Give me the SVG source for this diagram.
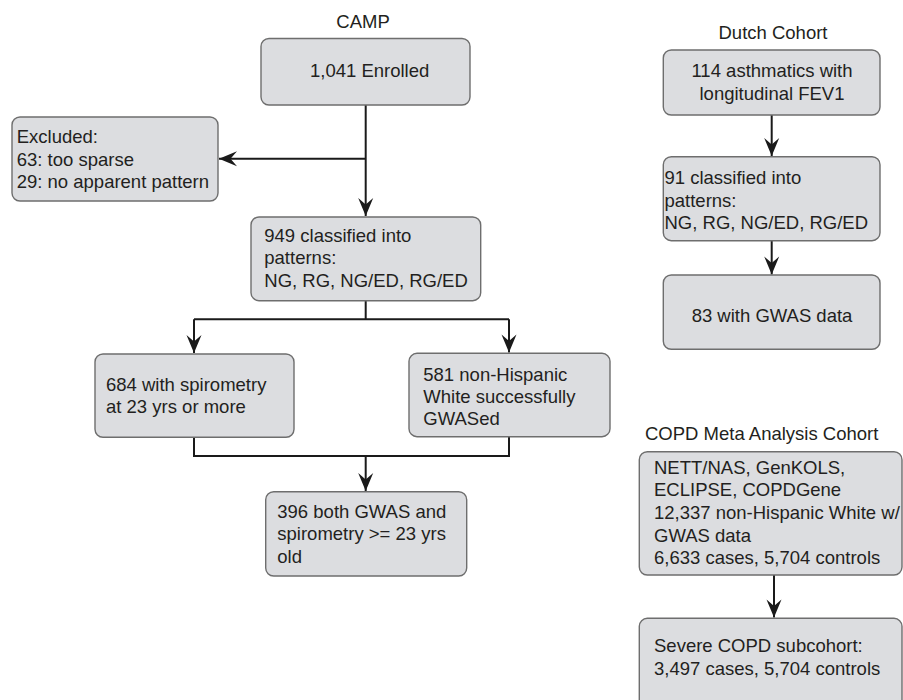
<svg xmlns="http://www.w3.org/2000/svg" width="903" height="700" viewBox="0 0 903 700">
<defs>
<style>
.box{fill:#dcdde0;stroke:#6e6e6e;stroke-width:1.4}
.t{font-family:"Liberation Sans",Arial,Helvetica,sans-serif;font-size:18.5px;fill:#231f20}
.c{text-anchor:middle}
.ln{fill:none;stroke:#1a1a1a;stroke-width:2}
</style>
<marker id="ah" markerUnits="userSpaceOnUse" viewBox="-20 -9 21 18" refX="0" refY="0" markerWidth="21" markerHeight="18" orient="auto">
<path d="M0,0 L-18,-7.5 L-11.5,0 L-18,7.5 Z" fill="#1a1a1a"/>
</marker>
</defs>
<rect width="903" height="700" fill="#fff"/>

<text class="t c" x="363" y="28">CAMP</text>
<text class="t c" x="773" y="39">Dutch Cohort</text>
<text class="t" x="645" y="440">COPD Meta Analysis Cohort</text>

<g id="connectors">
<path class="ln" d="M365.7,105 V216" marker-end="url(#ah)"/>
<path class="ln" d="M365.7,158.7 H219" marker-end="url(#ah)"/>
<path class="ln" d="M365.7,300.7 V319.3"/>
<path class="ln" d="M194,319.3 H509"/>
<path class="ln" d="M194,319.3 V353" marker-end="url(#ah)"/>
<path class="ln" d="M509,319.3 V352.5" marker-end="url(#ah)"/>
<path class="ln" d="M194,437.3 V456 H509 V436.7"/>
<path class="ln" d="M365.7,456 V491" marker-end="url(#ah)"/>
<path class="ln" d="M771.7,115 V156" marker-end="url(#ah)"/>
<path class="ln" d="M771.7,240.7 V274.5" marker-end="url(#ah)"/>
<path class="ln" d="M774,575 V617.5" marker-end="url(#ah)"/>
</g>

<g id="enrolled">
<rect class="box" x="261" y="38.5" width="209" height="66.5" rx="8"/>
<text class="t" x="310" y="77">1,041 Enrolled</text>
</g>

<g id="excluded">
<rect class="box" x="12" y="117" width="206" height="84" rx="8"/>
<text class="t" x="16.7" y="143.3">Excluded:</text>
<text class="t" x="16.7" y="166">63: too sparse</text>
<text class="t" x="16.7" y="188.3">29: no apparent pattern</text>
</g>

<g id="classified">
<rect class="box" x="251" y="217" width="229.7" height="83.7" rx="8"/>
<text class="t" x="264.3" y="241.7">949 classified into</text>
<text class="t" x="264.3" y="264.3">patterns:</text>
<text class="t" x="264.3" y="286.5">NG, RG, NG/ED, RG/ED</text>
</g>

<g id="spirometry">
<rect class="box" x="95" y="354" width="199" height="83.3" rx="8"/>
<text class="t" x="106" y="390.7">684 with spirometry</text>
<text class="t" x="106" y="412.7">at 23 yrs or more</text>
</g>

<g id="gwased">
<rect class="box" x="409" y="353.3" width="201" height="83.4" rx="8"/>
<text class="t" x="423.3" y="381">581 non-Hispanic</text>
<text class="t" x="423.3" y="402.7">White successfully</text>
<text class="t" x="423.3" y="425">GWASed</text>
</g>

<g id="both">
<rect class="box" x="265.7" y="491.7" width="201" height="84.3" rx="8"/>
<text class="t" x="277.3" y="518.3">396 both GWAS and</text>
<text class="t" x="277.3" y="540.3">spirometry &gt;= 23 yrs</text>
<text class="t" x="277.3" y="562.7">old</text>
</g>

<g id="dutch1">
<rect class="box" x="663.3" y="50" width="216.7" height="65" rx="8"/>
<text class="t c" x="772" y="77.3">114 asthmatics with</text>
<text class="t c" x="772" y="100">longitudinal FEV1</text>
</g>

<g id="dutch2">
<rect class="box" x="663.3" y="156.7" width="216.7" height="84" rx="8"/>
<text class="t" x="664.5" y="184">91 classified into</text>
<text class="t" x="664.5" y="206.7">patterns:</text>
<text class="t" x="664.5" y="228.8">NG, RG, NG/ED, RG/ED</text>
</g>

<g id="dutch3">
<rect class="box" x="663.3" y="275" width="216.7" height="74.3" rx="8"/>
<text class="t c" x="772" y="322">83 with GWAS data</text>
</g>

<g id="copd1">
<rect class="box" x="639.3" y="451.7" width="262.7" height="123.3" rx="8"/>
<text class="t" x="654" y="474">NETT/NAS, GenKOLS,</text>
<text class="t" x="654" y="496.3">ECLIPSE, COPDGene</text>
<text class="t" x="654" y="518.6">12,337 non-Hispanic White w/</text>
<text class="t" x="654" y="541.5">GWAS data</text>
<text class="t" x="654" y="564.3">6,633 cases, 5,704 controls</text>
</g>

<g id="copd2">
<rect class="box" x="639.3" y="618.3" width="262.7" height="95" rx="8"/>
<text class="t" x="654" y="651.7">Severe COPD subcohort:</text>
<text class="t" x="654" y="675">3,497 cases, 5,704 controls</text>
</g>
</svg>
